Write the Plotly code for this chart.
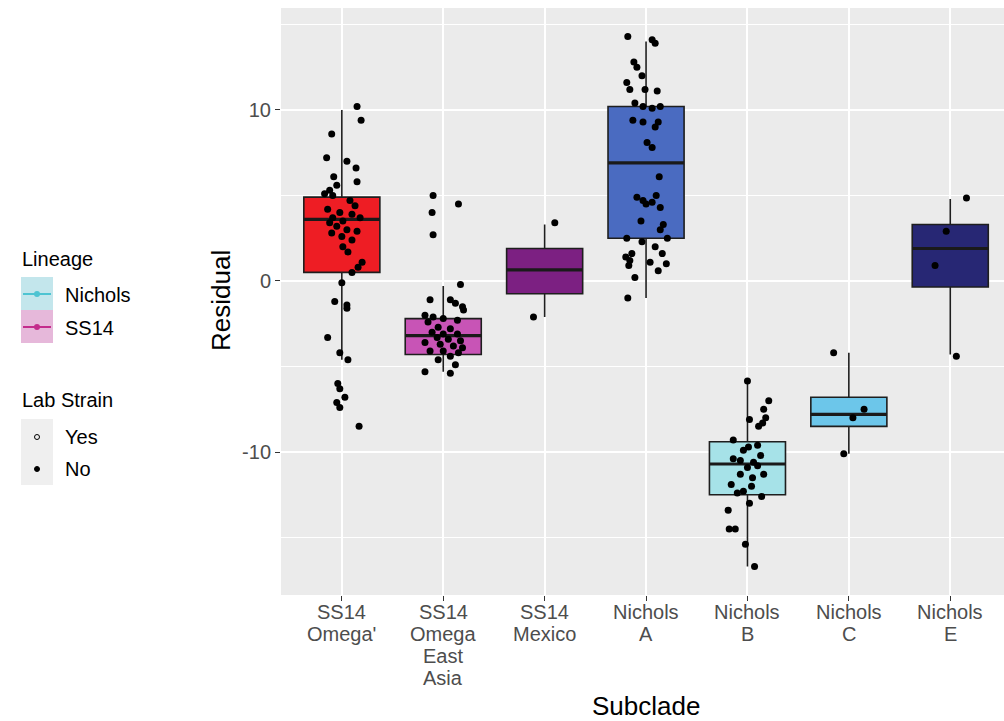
import plotly.graph_objects as go

# ---------------- data ----------------
subclades = ["SS14<br>Omega'", "SS14<br>Omega<br>East<br>Asia", "SS14<br>Mexico",
             "Nichols<br>A", "Nichols<br>B", "Nichols<br>C", "Nichols<br>E"]
box_colors = ["#EE1D24", "#C854B6", "#7C2082", "#4A6BC1", "#A6E2E8", "#6CC6EA", "#272774"]

q1 = [0.5, -4.3, -0.75, 2.5, -12.5, -8.5, -0.35]
median = [3.6, -3.2, 0.65, 6.9, -10.7, -7.8, 1.9]
q3 = [4.9, -2.2, 1.9, 10.2, -9.4, -6.8, 3.3]
lower_whisker = [-4.6, -5.3, -2.1, -1.0, -16.7, -10.1, -4.3]
upper_whisker = [10.0, -0.3, 3.3, 14.0, -5.8, -4.2, 4.8]

omega_res = [10.2, 9.4, 8.6, 7.2, 7.0, 6.6, 6.1, 5.8, 5.6, 5.3, 5.1, 5.0, 4.7, 4.4, 4.2, 4.0,
             3.9, 3.7, 3.7, 3.5, 3.4, 3.2, 3.0, 2.9, 2.8, 2.6, 2.4, 2.0, 1.7, 1.1, 0.8, 0.5,
             -0.1, -1.2, -1.4, -1.6, -3.3, -4.2, -4.6, -6.0, -6.3, -6.8, -7.1, -7.4, -8.5]
omega_jit = [0.15, 0.19, -0.10, -0.15, 0.05, 0.14, -0.08, 0.15, -0.05, -0.12, -0.17, -0.09,
             0.08, 0.13, -0.14, -0.02, 0.10, -0.09, 0.18, 0.01, -0.12, -0.05, 0.05, 0.15,
             -0.10, 0.00, 0.10, 0.01, 0.06, 0.20, 0.16, 0.10, 0.00, -0.07, 0.05, 0.05,
             -0.14, -0.02, 0.06, -0.04, -0.02, 0.03, -0.05, -0.02, 0.17]

eastasia_res = [5.0, 4.5, 4.0, 2.7, -0.2, -1.1, -1.1, -1.3, -1.5, -1.7, -2.0, -2.1, -2.2, -2.3,
                -2.4, -2.7, -2.8, -3.0, -3.1, -3.1, -3.3, -3.4, -3.5, -3.6, -3.7, -3.8, -3.9,
                -4.1, -4.1, -4.2, -4.4, -4.6, -4.9, -5.3, -5.4]
eastasia_jit = [-0.10, 0.15, -0.11, -0.10, 0.17, -0.13, 0.07, 0.12, 0.19, 0.20, -0.18, -0.10,
                0.00, 0.14, -0.15, -0.05, 0.07, -0.11, 0.00, 0.14, -0.06, 0.05, 0.17, -0.18,
                -0.03, 0.10, 0.19, -0.13, 0.00, 0.15, 0.07, -0.05, 0.12, -0.18, 0.07]

mexico_res = [3.4, -2.1]
mexico_jit = [0.10, -0.11]

nicholsA_res = [14.3, 14.1, 13.9, 12.8, 12.5, 12.0, 11.6, 11.2, 11.2, 11.1, 10.4, 10.2, 10.1,
                10.2, 9.4, 9.3, 9.3, 9.0, 8.1, 7.8, 6.1, 5.0, 4.9, 4.7, 4.6, 4.5, 4.3, 3.5,
                3.3, 3.0, 2.5, 2.3, 2.5, 2.0, 1.6, 1.6, 1.4, 1.2, 1.1, 1.0, 0.9, 0.6, 0.2, -1.0]
nicholsA_jit = [-0.18, 0.06, 0.09, -0.12, -0.09, -0.04, -0.19, -0.16, -0.01, 0.11, -0.11,
                -0.03, 0.06, 0.14, -0.13, -0.03, 0.12, 0.09, 0.01, 0.06, 0.13, 0.10, -0.09,
                -0.03, 0.06, 0.00, 0.14, -0.05, 0.17, 0.14, -0.19, -0.04, 0.21, 0.09, -0.14,
                0.16, -0.20, -0.16, 0.04, 0.20, -0.17, 0.12, -0.11, -0.18]

nicholsB_res = [-5.85, -7.0, -7.5, -8.0, -8.3, -8.5, -8.1, -9.3, -9.7, -9.6, -9.9, -10.2, -10.4,
                -10.5, -10.6, -10.9, -10.8, -11.3, -11.5, -11.3, -11.9, -12.0, -12.4, -12.3,
                -12.6, -13.0, -13.4, -14.5, -14.5, -15.4, -16.7]
nicholsB_jit = [0.00, 0.21, 0.16, 0.18, 0.15, 0.11, 0.02, -0.14, 0.01, 0.10, -0.04, 0.13,
                -0.14, -0.07, 0.06, 0.00, 0.10, -0.07, 0.05, 0.16, -0.16, 0.04, -0.10, -0.04,
                0.14, 0.02, -0.19, -0.18, -0.12, -0.02, 0.07]

nicholsC_res = [-4.2, -7.5, -8.0, -10.1]
nicholsC_jit = [-0.15, 0.15, 0.04, -0.05]

nicholsE_res = [4.85, 2.9, 0.9, -4.4]
nicholsE_jit = [0.16, -0.04, -0.15, 0.06]

group_res = [omega_res, eastasia_res, mexico_res, nicholsA_res, nicholsB_res, nicholsC_res, nicholsE_res]
group_jit = [omega_jit, eastasia_jit, mexico_jit, nicholsA_jit, nicholsB_jit, nicholsC_jit, nicholsE_jit]

lineage_labels = ["Nichols", "SS14"]
lineage_colors = ["#4EC4D2", "#C42C8C"]
lineage_key_fill = ["#C3E6EC", "#E6B8DA"]
lab_labels = ["Yes", "No"]
y_ticks = [-10, 0, 10]
y_tick_text = ["-10", "0", "10"]
y_minor = [-15, -5, 5, 15]

# ---------------- figure ----------------
W, H = 1004, 721
L, R, T, B = 281, 0, 8, 126
PW, PH = W - L - R, H - T - B
FONT = "Liberation Sans, Arial, Helvetica, sans-serif"
TICK_SIZE = 20
TITLE_SIZE = 26
LEG_SIZE = 20
LEG_TITLE_SIZE = 20

fig = go.Figure()
box_w = 0.75
for i in range(len(subclades)):
    fig.add_trace(go.Box(
        x=[i], q1=[q1[i]], median=[median[i]], q3=[q3[i]],
        lowerfence=[lower_whisker[i]], upperfence=[upper_whisker[i]],
        width=box_w, whiskerwidth=0, boxpoints=False,
        fillcolor=box_colors[i], line=dict(color="#1e1e1e", width=1.6),
        showlegend=False, hoverinfo="skip"))
    # thicker median (ggplot fatten)
    fig.add_trace(go.Scatter(
        x=[i - box_w / 2, i + box_w / 2], y=[median[i], median[i]], mode="lines",
        line=dict(color="#1a1a1a", width=3.2), showlegend=False, hoverinfo="skip"))

for i in range(len(subclades)):
    fig.add_trace(go.Scatter(
        x=[i + j for j in group_jit[i]], y=group_res[i], mode="markers",
        marker=dict(color="black", size=7, line=dict(width=0)),
        showlegend=False, hoverinfo="skip"))


def px(x):
    return (x - L) / PW


def py(y):
    return (H - B - y) / PH


shapes = []
annotations = []

# x tick labels (ggplot-like tight line spacing)
for i, lab in enumerate(subclades):
    for j, line in enumerate(lab.split("<br>")):
        annotations.append(dict(x=i, xref="x", y=py(612 + 22 * j), yref="paper", text=line,
                                showarrow=False, xanchor="center", yanchor="middle",
                                font=dict(family=FONT, size=TICK_SIZE, color="#4D4D4D")))

# legend: Lineage
annotations.append(dict(x=px(20), y=py(259), xref="paper", yref="paper", text="Lineage",
                        showarrow=False, xanchor="left", yanchor="middle",
                        font=dict(family=FONT, size=LEG_TITLE_SIZE, color="black")))
for k in range(2):
    y0 = 277 + 33 * k
    shapes.append(dict(type="rect", xref="paper", yref="paper", x0=px(21), x1=px(53),
                       y0=py(y0), y1=py(y0 + 33), fillcolor=lineage_key_fill[k],
                       line=dict(width=0), layer="above"))
    yc = y0 + 17
    shapes.append(dict(type="line", xref="paper", yref="paper", x0=px(23), x1=px(51),
                       y0=py(yc), y1=py(yc), line=dict(color=lineage_colors[k], width=2),
                       layer="above"))
    shapes.append(dict(type="circle", xref="paper", yref="paper", x0=px(34), x1=px(40),
                       y0=py(yc - 3), y1=py(yc + 3), fillcolor=lineage_colors[k],
                       line=dict(width=0), layer="above"))
    annotations.append(dict(x=px(63), y=py(yc + 1), xref="paper", yref="paper",
                            text=lineage_labels[k], showarrow=False, xanchor="left",
                            yanchor="middle", font=dict(family=FONT, size=LEG_SIZE, color="black")))

# legend: Lab Strain
annotations.append(dict(x=px(20), y=py(400), xref="paper", yref="paper", text="Lab Strain",
                        showarrow=False, xanchor="left", yanchor="middle",
                        font=dict(family=FONT, size=LEG_TITLE_SIZE, color="black")))
shapes.append(dict(type="rect", xref="paper", yref="paper", x0=px(21), x1=px(53),
                   y0=py(419), y1=py(485), fillcolor="#EFEFEF", line=dict(width=0),
                   layer="above"))
for k in range(2):
    yc = 437 + 32 * k
    shapes.append(dict(type="circle", xref="paper", yref="paper", x0=px(34.5), x1=px(39.5),
                       y0=py(yc - 2.5), y1=py(yc + 2.5),
                       fillcolor="black" if k == 1 else "rgba(0,0,0,0)",
                       line=dict(color="black", width=1), layer="above"))
    annotations.append(dict(x=px(63), y=py(yc), xref="paper", yref="paper",
                            text=lab_labels[k], showarrow=False, xanchor="left",
                            yanchor="middle", font=dict(family=FONT, size=LEG_SIZE, color="black")))

# axis titles
annotations.append(dict(x=px(646), y=py(706), xref="paper", yref="paper", text="Subclade",
                        showarrow=False, xanchor="center", yanchor="middle",
                        font=dict(family=FONT, size=TITLE_SIZE, color="black")))
annotations.append(dict(x=px(221), y=py(301), xref="paper", yref="paper", text="Residual",
                        showarrow=False, xanchor="center", yanchor="middle", textangle=-90,
                        font=dict(family=FONT, size=TITLE_SIZE, color="black")))

fig.update_layout(
    width=W, height=H, autosize=False,
    margin=dict(l=L, r=R, t=T, b=B, pad=0),
    paper_bgcolor="white", plot_bgcolor="#EBEBEB",
    shapes=shapes, annotations=annotations, showlegend=False,
    font=dict(family=FONT),
)
fig.update_xaxes(
    range=[-0.6, 6.53], tickmode="array", tickvals=list(range(len(subclades))),
    ticktext=[""] * len(subclades), showgrid=True, gridcolor="white", gridwidth=1.6,
    zeroline=False, showline=False, ticks="outside", ticklen=5, tickwidth=1,
    tickcolor="#333333",
)
fig.update_yaxes(
    range=[-18.36, 15.96], tickmode="array", tickvals=y_ticks, ticktext=y_tick_text,
    showgrid=True, gridcolor="white", gridwidth=1.6, zeroline=False, showline=False,
    ticks="outside", ticklen=5, tickwidth=1, tickcolor="#333333",
    tickfont=dict(family=FONT, size=TICK_SIZE, color="#4D4D4D"),
    minor=dict(tickmode="array", tickvals=y_minor, showgrid=True, gridcolor="white",
               gridwidth=0.8, ticks=""),
)

fig.write_html(
    "out.html",
    config={"displayModeBar": False},
    post_script="document.body.style.margin='0';document.body.style.overflow='hidden';",
)
